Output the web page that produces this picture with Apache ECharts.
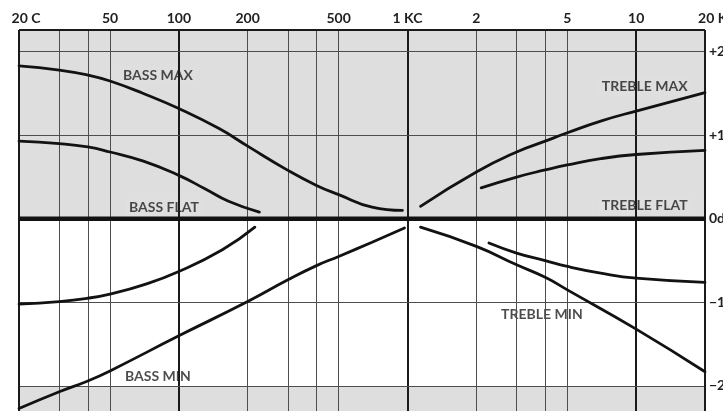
<!DOCTYPE html>
<html>
<head>
<meta charset="utf-8">
<script src="https://cdn.jsdelivr.net/npm/echarts@6/dist/echarts.min.js"></script>
<style>
  html, body { margin: 0; padding: 0; background: #ffffff; }
  #chart { width: 723px; height: 411px; }
</style>
</head>
<body>
<div id="chart"></div>
<script>
// Frequency axis (log) tick labels along the top
const freqTicks = [20, 50, 100, 200, 500, 1000, 2000, 5000, 10000, 20000];
const freqTickText = ['20 C', '50', '100', '200', '500', '1 KC', '2', '5', '10', '20 KC'];

// Level axis tick labels on the right
const dbTicks = [20, 10, 0, -10, -20];
const dbTickText = ['+20', '+10', '0db', '\u221210', '\u221220'];

// Grid rulings
const minorFreqLines = [30, 40, 50, 200, 300, 400, 500, 2000, 3000, 4000, 5000];
const decadeFreqLines = [100, 1000, 10000];
const levelLines = [20, 10, -10, -20];

// Tone-control response curves: [frequency Hz, level dB]
const bassMax = [[20, 18.3], [30, 17.8], [40, 17.2], [50, 16.5], [70, 15.0], [100, 13.2], [150, 10.8], [200, 8.7], [300, 5.8], [400, 4.0], [500, 2.9], [700, 1.4], [950, 1.0]];
const bassUpper = [[20, 9.3], [30, 9.0], [40, 8.6], [50, 8.0], [70, 6.9], [100, 5.2], [130, 3.6], [165, 2.1], [225, 0.8]];
const bassLower = [[20, -10.2], [30, -9.9], [40, -9.5], [50, -9.0], [70, -7.9], [100, -6.3], [155, -3.7], [215, -1.0]];
const bassMin = [[20, -22.7], [30, -20.7], [40, -19.4], [50, -18.2], [100, -14.0], [200, -9.9], [300, -7.3], [400, -5.6], [500, -4.5], [700, -2.8], [970, -1.1]];
const trebleMax = [[1140, 1.5], [2000, 5.6], [3000, 8.0], [4000, 9.3], [5000, 10.3], [7000, 11.7], [10000, 12.9], [20000, 15.1]];
const trebleUpper = [[2100, 3.7], [3000, 5.0], [4000, 5.85], [5000, 6.45], [7000, 7.2], [10000, 7.7], [20000, 8.2]];
const trebleLower = [[2270, -2.9], [3000, -4.1], [4000, -5.0], [5000, -5.7], [7000, -6.5], [10000, -7.1], [20000, -7.6]];
const trebleMin = [[1140, -1.0], [2000, -3.3], [3000, -5.5], [4000, -7.0], [5000, -8.5], [10000, -13.2], [20000, -18.3]];
const flatLine = [[20, 0], [20000, 0]];

// Curve captions: [text, frequency, level, on shaded band]
const curveLabels = [
  ['BASS MAX', 81, 17.2, true],
  ['BASS FLAT', 86, 1.3, true],
  ['BASS MIN', 81, -18.9, false],
  ['TREBLE MAX', 10900, 15.8, true],
  ['TREBLE FLAT', 10900, 1.65, true],
  ['TREBLE MIN', 3870, -11.5, false]
];

const Y_MIN = -23.0, Y_MAX = 22.6;
const SHADE = '#dedede';
const INK = '#121212';
const TEXT = '#1f1f1f';
const FONT = 'Lato';

const chart = echarts.init(document.getElementById('chart'), null, { renderer: 'canvas' });

function tickText(list, texts, v) {
  let best = 0, bd = Infinity;
  list.forEach((t, i) => { const d = Math.abs(t - v); if (d < bd) { bd = d; best = i; } });
  return texts[best];
}

const thin = { color: '#4d4d4d', width: 1, type: 'solid' };
const heavy = { color: '#1a1a1a', width: 2, type: 'solid' };
const gridLines = [];
minorFreqLines.forEach(f => gridLines.push({ xAxis: f, lineStyle: thin }));
decadeFreqLines.forEach(f => gridLines.push({ xAxis: f, lineStyle: heavy }));
levelLines.forEach(d => gridLines.push({ yAxis: d, lineStyle: thin }));
// frame: left, right and top edges
gridLines.push({ xAxis: 20, lineStyle: heavy });
gridLines.push({ xAxis: 20000, lineStyle: heavy });
gridLines.push({ yAxis: Y_MAX, lineStyle: heavy });

function curve(name, data) {
  return {
    name, type: 'line', data, smooth: 0.5,
    symbol: 'none', z: 6, silent: true, clip: false,
    lineStyle: { color: INK, width: 2.8, cap: 'round' }
  };
}

const option = {
  backgroundColor: '#ffffff',
  animation: false,
  grid: { left: 19, right: 18, top: 30, bottom: 0, containLabel: false, outerBoundsMode: 'none' },
  xAxis: {
    type: 'log', logBase: 10, min: 20, max: 20000, position: 'top',
    axisLine: { show: false }, axisTick: { show: false }, splitLine: { show: false },
    axisLabel: {
      customValues: freqTicks, margin: 5, hideOverlap: false,
      fontFamily: FONT, fontWeight: 'bold', fontSize: 14, color: TEXT,
      formatter: v => {
        const t = tickText(freqTicks, freqTickText, v);
        if (t === '20 C') return '{sp1|}{n|20}{u| C}';
        if (t === '20 KC') return '{sp2|}{n|20}{u| KC}';
        return t;
      },
      rich: {
        n: { fontFamily: FONT, fontWeight: 'bold', fontSize: 14, color: TEXT },
        u: { fontFamily: FONT, fontWeight: 'bold', fontSize: 14, color: TEXT },
        sp1: { width: 14 },
        sp2: { width: 24 }
      }
    }
  },
  yAxis: {
    type: 'value', min: Y_MIN, max: Y_MAX, position: 'right',
    axisLine: { show: false }, axisTick: { show: false }, splitLine: { show: false },
    axisLabel: {
      customValues: dbTicks, margin: 4, align: 'left',
      fontFamily: FONT, fontWeight: 'bold', fontSize: 14, color: TEXT,
      formatter: v => dbTickText[dbTicks.indexOf(Math.round(v))] || ''
    }
  },
  series: [
    {
      name: 'bands', type: 'line', data: [], silent: true, z: 0,
      markArea: {
        silent: true,
        itemStyle: { color: SHADE },
        data: [
          [{ yAxis: 0 }, { yAxis: Y_MAX }],
          [{ yAxis: Y_MIN }, { yAxis: -20 }]
        ]
      }
    },
    {
      name: 'rulings', type: 'line', data: [], silent: true, z: 1, clip: false,
      markLine: {
        silent: true, symbol: ['none', 'none'], animation: false,
        label: { show: false },
        lineStyle: { type: 'solid' },
        data: gridLines
      }
    },
    {
      name: 'captions', type: 'scatter', z: 4, silent: true, symbolSize: 0,
      data: curveLabels.map(c => ({
        name: c[0], value: [c[1], c[2]],
        label: { backgroundColor: c[3] ? SHADE : '#ffffff' }
      })),
      label: {
        show: true, position: 'inside', formatter: '{b}',
        fontFamily: FONT, fontWeight: 'bold', fontSize: 14, color: TEXT,
        padding: [3, 4, 2, 4]
      }
    },
    curve('Bass max', bassMax),
    curve('Bass boost', bassUpper),
    curve('Bass cut', bassLower),
    curve('Bass min', bassMin),
    curve('Treble max', trebleMax),
    curve('Treble boost', trebleUpper),
    curve('Treble cut', trebleLower),
    curve('Treble min', trebleMin),
    {
      name: 'Flat', type: 'line', data: flatLine, symbol: 'none', z: 7, silent: true,
      lineStyle: { color: INK, width: 4.5 }
    }
  ]
};

chart.setOption(option);
</script>
</body>
</html>
